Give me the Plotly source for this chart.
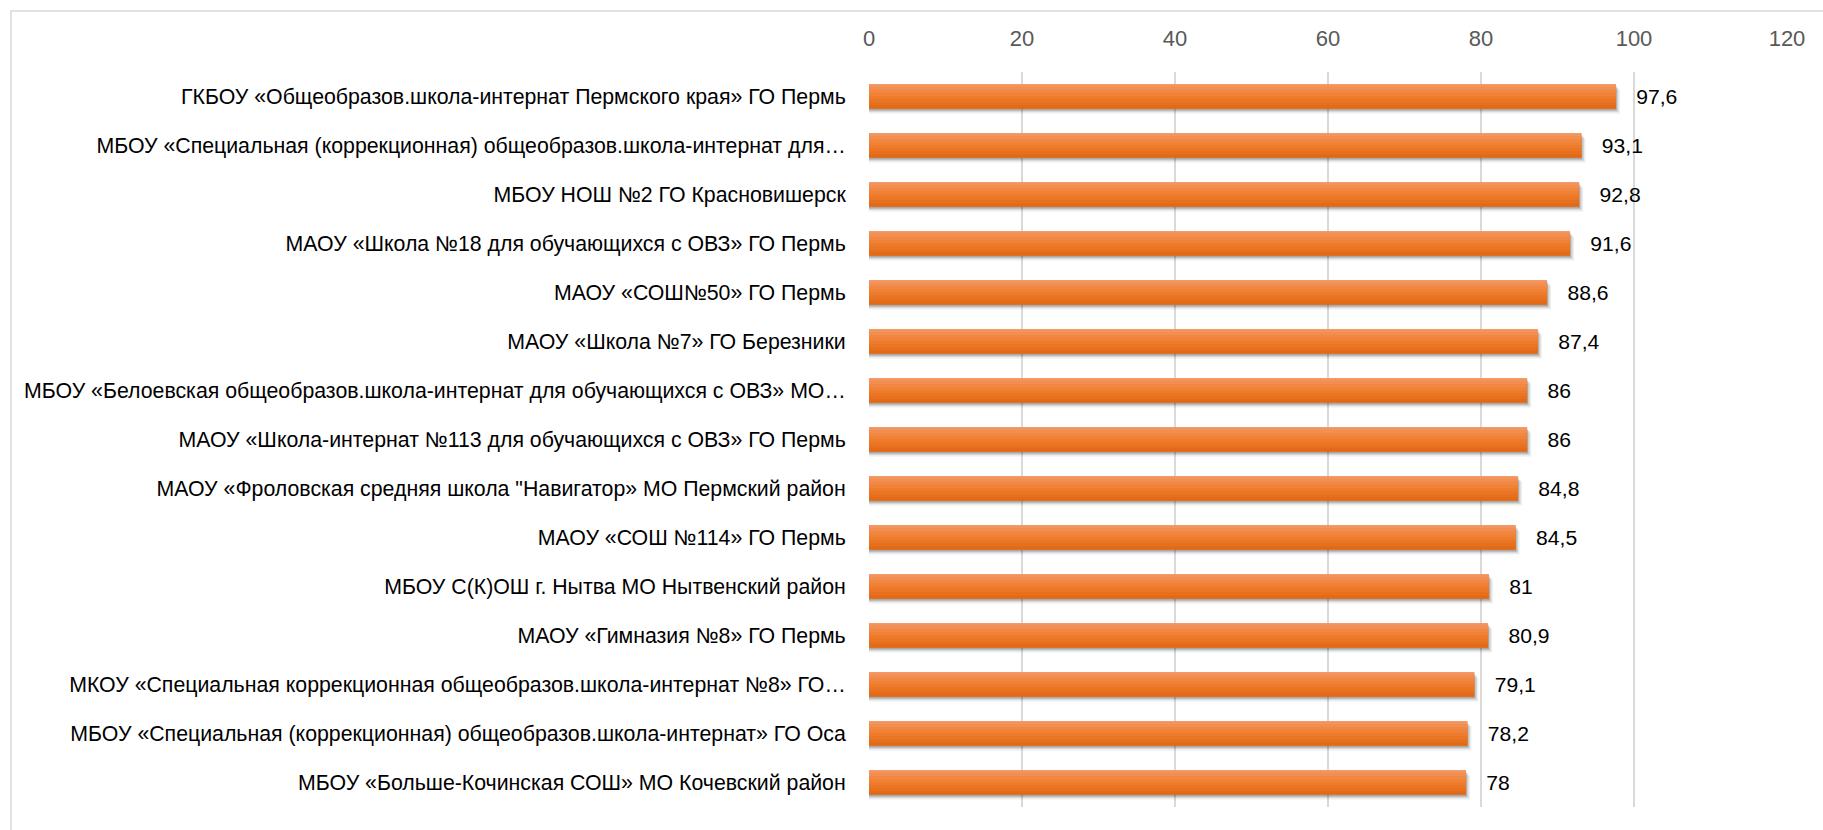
import plotly.graph_objects as go

categories = [
    "ГКБОУ «Общеобразов.школа-интернат Пермского края» ГО Пермь",
    "МБОУ «Специальная (коррекционная) общеобразов.школа-интернат для…",
    "МБОУ НОШ №2 ГО Красновишерск",
    "МАОУ «Школа №18 для обучающихся с ОВЗ» ГО Пермь",
    "МАОУ «СОШ№50» ГО Пермь",
    "МАОУ «Школа №7» ГО Березники",
    "МБОУ «Белоевская общеобразов.школа-интернат для обучающихся с ОВЗ» МО…",
    "МАОУ «Школа-интернат №113 для обучающихся с ОВЗ» ГО Пермь",
    "МАОУ «Фроловская средняя школа \"Навигатор» МО Пермский район",
    "МАОУ «СОШ №114» ГО Пермь",
    "МБОУ С(К)ОШ г. Нытва МО Нытвенский район",
    "МАОУ «Гимназия №8» ГО Пермь",
    "МКОУ «Специальная коррекционная общеобразов.школа-интернат №8» ГО…",
    "МБОУ «Специальная (коррекционная) общеобразов.школа-интернат» ГО Оса",
    "МБОУ «Больше-Кочинская СОШ» МО Кочевский район",
]
values = [97.6, 93.1, 92.8, 91.6, 88.6, 87.4, 86, 86, 84.8, 84.5, 81, 80.9, 79.1, 78.2, 78]
x_ticks = [0, 20, 40, 60, 80, 100, 120]

labels = ["\u00a0\u00a0\u00a0" + f"{v:g}".replace(".", ",") for v in values]

W, H = 1823, 830
L, R, T, B = 869, 36, 72, 23
FONT = "Liberation Sans, Arial, sans-serif"

fig = go.Figure()

n = len(categories)
bw = 0.49
# soft shadow
for dx, dy, a in [(0.55, 0.10, 0.07), (0.35, 0.065, 0.12), (0.15, 0.04, 0.18)]:
    fig.add_trace(go.Bar(
        y=categories, x=[v + dx for v in values], orientation="h",
        width=[bw] * n, offset=[-bw / 2 + dy] * n,
        marker=dict(color=f"rgba(0,0,0,{a})", line=dict(width=0)),
        hoverinfo="skip", showlegend=False,
    ))

# base bar
fig.add_trace(go.Bar(
    y=categories, x=values, orientation="h",
    width=[bw] * n, offset=[-bw / 2] * n,
    marker=dict(color="rgb(238,122,42)", line=dict(width=0)),
    hoverinfo="skip", showlegend=False,
))

# gradient bands
top = (242, 148, 94)
mid = (240, 126, 46)
bot = (226, 106, 22)
nb = 8
for i in range(nb):
    t = i / (nb - 1)
    if t < 0.5:
        c = tuple(round(top[k] + (mid[k] - top[k]) * t * 2) for k in range(3))
    else:
        c = tuple(round(mid[k] + (bot[k] - mid[k]) * (t - 0.5) * 2) for k in range(3))
    fig.add_trace(go.Bar(
        y=categories, x=values, orientation="h",
        width=[bw / nb] * n, offset=[-bw / 2 + i * bw / nb] * n,
        marker=dict(color=f"rgb{c}", line=dict(width=0.6, color=f"rgb{c}")),
        hoverinfo="skip", showlegend=False,
    ))

# labels
fig.add_trace(go.Bar(
    y=categories, x=values, orientation="h",
    width=[bw] * n, offset=[-bw / 2] * n,
    marker=dict(color="rgba(0,0,0,0)", line=dict(width=0)),
    text=labels, textposition="outside", cliponaxis=False,
    textfont=dict(family=FONT, size=22, color="#000000"),
    showlegend=False,
))

# chart border (left and top edges visible)
fig.add_shape(type="rect", xref="paper", yref="paper",
              x0=(11 - L) / (W - L - R), x1=1.2,
              y0=-0.2, y1=1 + (T - 11) / (H - T - B),
              line=dict(color="#D9D9D9", width=1.5), fillcolor="rgba(0,0,0,0)", layer="below")

fig.update_layout(
    width=W, height=H,
    margin=dict(l=L, r=R, t=T, b=B, pad=0, autoexpand=False),
    barmode="overlay",
    paper_bgcolor="white", plot_bgcolor="white",
    font=dict(family=FONT, size=22, color="#000000"),
    showlegend=False,
    xaxis=dict(
        range=[0, 120], tickvals=x_ticks, side="top", automargin=False,
        showgrid=True, gridcolor="#D9D9D9", gridwidth=1.5,
        zeroline=False, showline=False,
        ticks="outside", ticklen=16, tickcolor="rgba(0,0,0,0)",
        tickfont=dict(family=FONT, size=22, color="#595959"),
        fixedrange=True,
    ),
    yaxis=dict(
        type="category", autorange="reversed", automargin=False,
        showgrid=False, zeroline=False, showline=False,
        ticks="outside", ticklen=18, tickcolor="rgba(0,0,0,0)",
        tickfont=dict(family=FONT, size=21.3, color="#000000"),
        fixedrange=True,
    ),
)

fig.write_html("out.html", config={"displayModeBar": False},
               post_script="document.body.style.margin='0';document.body.style.overflow='hidden';")
